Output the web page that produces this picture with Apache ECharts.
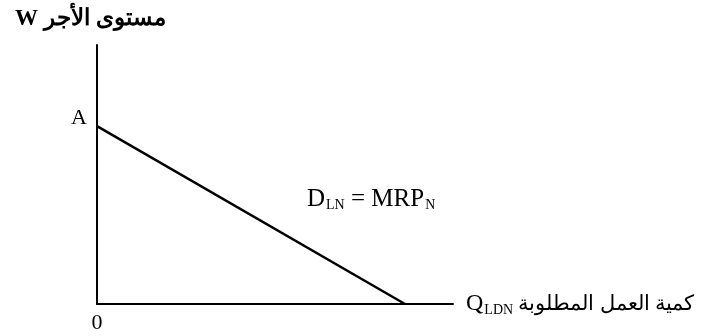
<!DOCTYPE html>
<html>
<head>
<meta charset="utf-8">
<script src="https://cdn.jsdelivr.net/npm/echarts@6/dist/echarts.min.js"></script>
<style>
  html, body { margin: 0; padding: 0; background: #fff; }
  #main { width: 701px; height: 336px; }
</style>
</head>
<body>
<div id="main"></div>
<script>
// 需求曲线数据 (x: 劳动量, y: 工资)
var demandX = [0, 86.5];
var demandY = [68.7, 0];
var pointLabels = ['A', ''];
var curveLabelPos = [77, 40.5];

var serif = '"Liberation Serif", "DejaVu Serif", serif';

var myChart = echarts.init(document.getElementById('main'));

var lineData = demandX.map(function (x, i) {
    var item = { value: [x, demandY[i]] };
    if (pointLabels[i]) {
        item.label = {
            show: true,
            formatter: pointLabels[i],
            position: 'left',
            distance: 10,
            offset: [0, -8],
            fontFamily: serif,
            fontSize: 22,
            color: '#000'
        };
    }
    return item;
});

var option = {
    animation: false,
    backgroundColor: '#fff',
    grid: { left: 97, top: 45, right: 248, bottom: 32 },
    xAxis: {
        type: 'value',
        min: 0,
        max: 100,
        interval: 100,
        name: '{q|Q}{s|LDN}{t| كمية العمل المطلوبة}',
        nameLocation: 'end',
        nameGap: 13,
        nameTextStyle: {
            rich: {
                q: { fontFamily: serif, fontSize: 24, color: '#000' },
                s: { fontFamily: serif, fontSize: 14, color: '#000', padding: [12, 0, 0, 1] },
                t: { fontFamily: serif, fontSize: 21, color: '#000' }
            }
        },
        axisLine: { lineStyle: { color: '#000', width: 2 } },
        axisTick: { show: false },
        splitLine: { show: false },
        axisLabel: {
            formatter: function (v) { return v === 0 ? '0' : ''; },
            fontFamily: serif,
            fontSize: 22,
            color: '#000',
            margin: 8
        }
    },
    yAxis: {
        type: 'value',
        min: 0,
        max: 100,
        interval: 100,
        name: 'W مستوى الأجر',
        nameLocation: 'end',
        nameGap: 14,
        nameTextStyle: {
            fontFamily: serif,
            fontSize: 23,
            fontWeight: 'bold',
            color: '#000',
            align: 'left',
            padding: [0, 0, 0, -82]
        },
        axisLine: { lineStyle: { color: '#000', width: 2 } },
        axisTick: { show: false },
        splitLine: { show: false },
        axisLabel: { show: false }
    },
    series: [{
        type: 'line',
        data: lineData,
        symbol: 'circle',
        symbolSize: 0,
        showSymbol: true,
        lineStyle: { color: '#000', width: 2.5 },
        markPoint: {
            symbol: 'circle',
            symbolSize: 0,
            data: [{
                coord: curveLabelPos,
                label: {
                    show: true,
                    position: 'inside',
                    formatter: '{m|D}{s|LN}{m| = MRP}{s|N}',
                    rich: {
                        m: { fontFamily: serif, fontSize: 25, color: '#000' },
                        s: { fontFamily: serif, fontSize: 14, color: '#000', padding: [13, 0, 0, 1] }
                    }
                }
            }]
        }
    }]
};

myChart.setOption(option);
</script>
</body>
</html>
